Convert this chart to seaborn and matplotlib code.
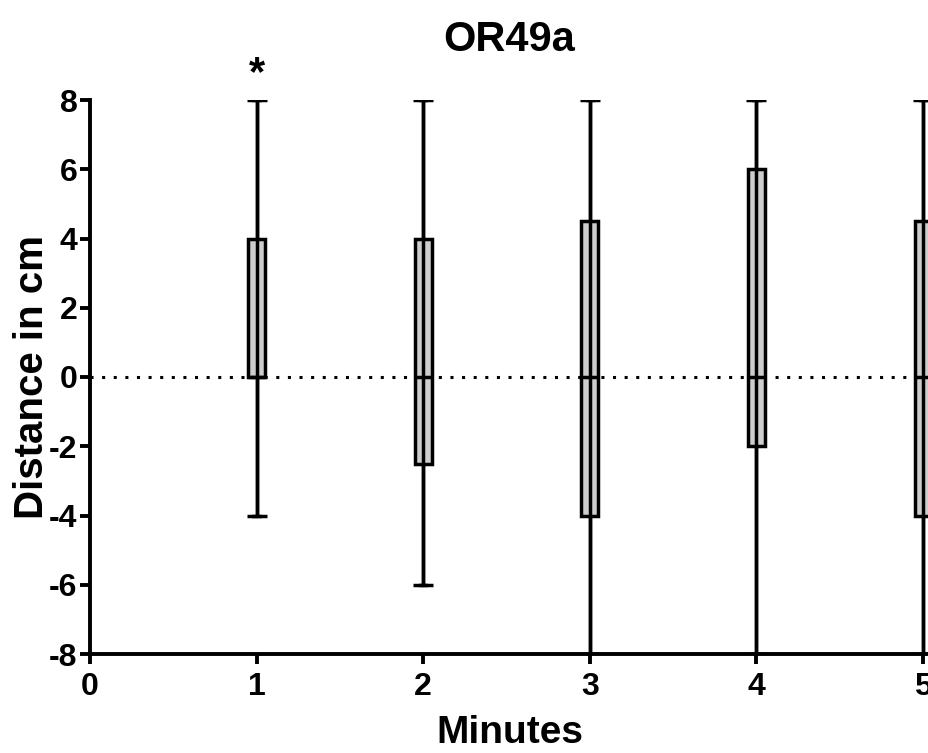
import numpy as np
import pandas as pd
import seaborn as sns
import matplotlib.pyplot as plt

# five-number summaries (min, Q1, median, Q3, max)
minutes = [1, 2, 3, 4, 5]
mins = [-4, -6, -8, -8, -8]
q1 = [0, -2.5, -4, -2, -4]
medians = [0, 0, 0, 0, 0]
q3 = [4, 4, 4.5, 6, 4.5]
maxs = [8, 8, 8, 8, 8]

rows = []
for m, a, b, c, d, e in zip(minutes, mins, q1, medians, q3, maxs):
    for v in (a, b, c, d, e):
        rows.append({"minute": m, "value": v})
df = pd.DataFrame(rows)

sns.set_style("ticks")
plt.rcParams['font.family'] = ['Liberation Sans', 'DejaVu Sans']
plt.rcParams['font.weight'] = 'bold'
plt.rcParams['axes.unicode_minus'] = False
for k in ['text.color', 'axes.labelcolor', 'xtick.color', 'ytick.color', 'axes.edgecolor']:
    plt.rcParams[k] = 'black'

fig = plt.figure(figsize=(9.29, 7.53), dpi=100)
ax = fig.add_axes([90/929, 1-654/753, 1-90/929, (654-100)/753])

lw = 2.5
sns.boxplot(data=df, x="minute", y="value", native_scale=True, whis=(0, 100),
            width=0.1, color="#cdcdcd", linecolor="black", linewidth=lw,
            fill=True, saturation=1, ax=ax)

# whiskers run through the box, with caps at both ends
ax.vlines(minutes, mins, maxs, color="black", lw=lw, zorder=5)
ax.hlines(mins, np.array(minutes) - 0.06, np.array(minutes) + 0.06, color="black", lw=lw, zorder=5)
ax.hlines(maxs, np.array(minutes) - 0.06, np.array(minutes) + 0.06, color="black", lw=lw, zorder=5)

ax.axhline(0, color="black", lw=2.2, linestyle=(0, (1, 2.8)), zorder=1)

ax.text(1, 8.75, "*", ha="center", va="center", fontsize=30, fontweight="bold", clip_on=False)

ax.set_xlim(0, 5.036)
ax.set_ylim(-8, 8)
ax.set_xticks([0, 1, 2, 3, 4, 5])
ax.set_xticklabels(["0", "1", "2", "3", "4", "5"])
ax.set_yticks(np.arange(-8, 9, 2))
ax.tick_params(width=2.8, length=7, labelsize=23, direction="out")
ax.tick_params(axis="x", pad=6)
ax.tick_params(axis="y", pad=2)
for lab in ax.get_xticklabels() + ax.get_yticklabels():
    lab.set_fontweight("bold")

sns.despine(ax=ax)
ax.spines['left'].set_linewidth(2.8)
ax.spines['bottom'].set_linewidth(2.8)

ax.set_title("OR49a", fontsize=30, fontweight="bold", pad=35)
ax.set_xlabel("Minutes", fontsize=28, fontweight="bold", labelpad=9)
ax.set_ylabel("Distance in cm", fontsize=29, fontweight="bold")
ax.yaxis.set_label_coords(-0.047, 0.5)

fig.savefig("out.png", dpi=100)
